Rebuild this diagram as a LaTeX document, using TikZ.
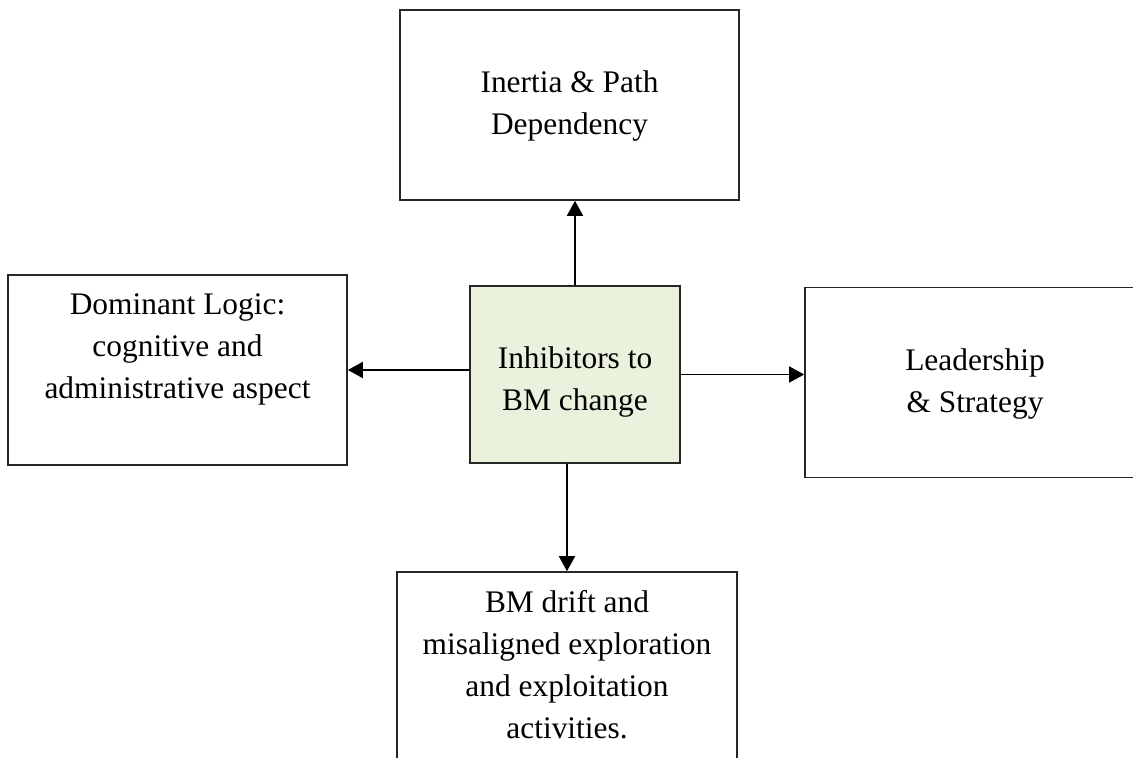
\documentclass[tikz,border=0pt]{standalone}
\usepackage{fontspec}
\setmainfont{Liberation Serif}
\usetikzlibrary{arrows.meta}
\usetikzlibrary{calc}
\definecolor{hubgreen}{RGB}{234,241,221}

\begin{document}
\begin{tikzpicture}[x=0.5pt,y=-0.5pt,
  factor/.style={draw=black!85,line width=0.8pt,minimum width=169.5pt,minimum height=95pt,inner sep=0pt},
  hub/.style={factor,fill=hubgreen,minimum width=105pt,minimum height=88.5pt},
  boxtext/.style={align=center,inner sep=0pt,font=\fontsize{15.7}{21}\selectfont},
  arr/.style={-{Triangle[length=7.5pt,width=8pt]},line width=0.8pt}]
\useasboundingbox (0,0) rectangle (1133,758);
\clip (0,0) rectangle (1133,758);
%boxes
\node[factor] (inertia) at (569.5,105) {};
\node[factor] (logic) at (177.5,370) {};
\node[hub] (core) at (575,374.5) {};
\node[factor,minimum width=170pt] (lead) at (975,382.5) {};
\node[factor,minimum width=170pt] (drift) at (567,667) {};
%texts
\node[boxtext] at (inertia.center) {\strut Inertia \& Path\\\strut Dependency};
\node[boxtext] at ([yshift=11pt]logic.center) {\strut Dominant Logic:\\\strut cognitive and\\\strut administrative aspect};
\node[boxtext] at ([yshift=-3.5pt]core.center) {\strut Inhibitors to\\\strut BM change};
\node[boxtext] at ([yshift=-0.5pt]lead.center) {\strut Leadership\\\strut \& Strategy};
\node[boxtext] at (drift.center) {\strut BM drift and\\\strut misaligned exploration\\\strut and exploitation\\\strut activities.};
%arrows
\draw[arr] (core.north) -- (core.north |- inertia.south);
\draw[arr] (core.west |- logic.east) -- (logic.east);
\draw[arr] (core.east) -- (core.east -| lead.west);
\draw[arr] (drift.north |- core.south) -- (drift.north);
\end{tikzpicture}
\end{document}
